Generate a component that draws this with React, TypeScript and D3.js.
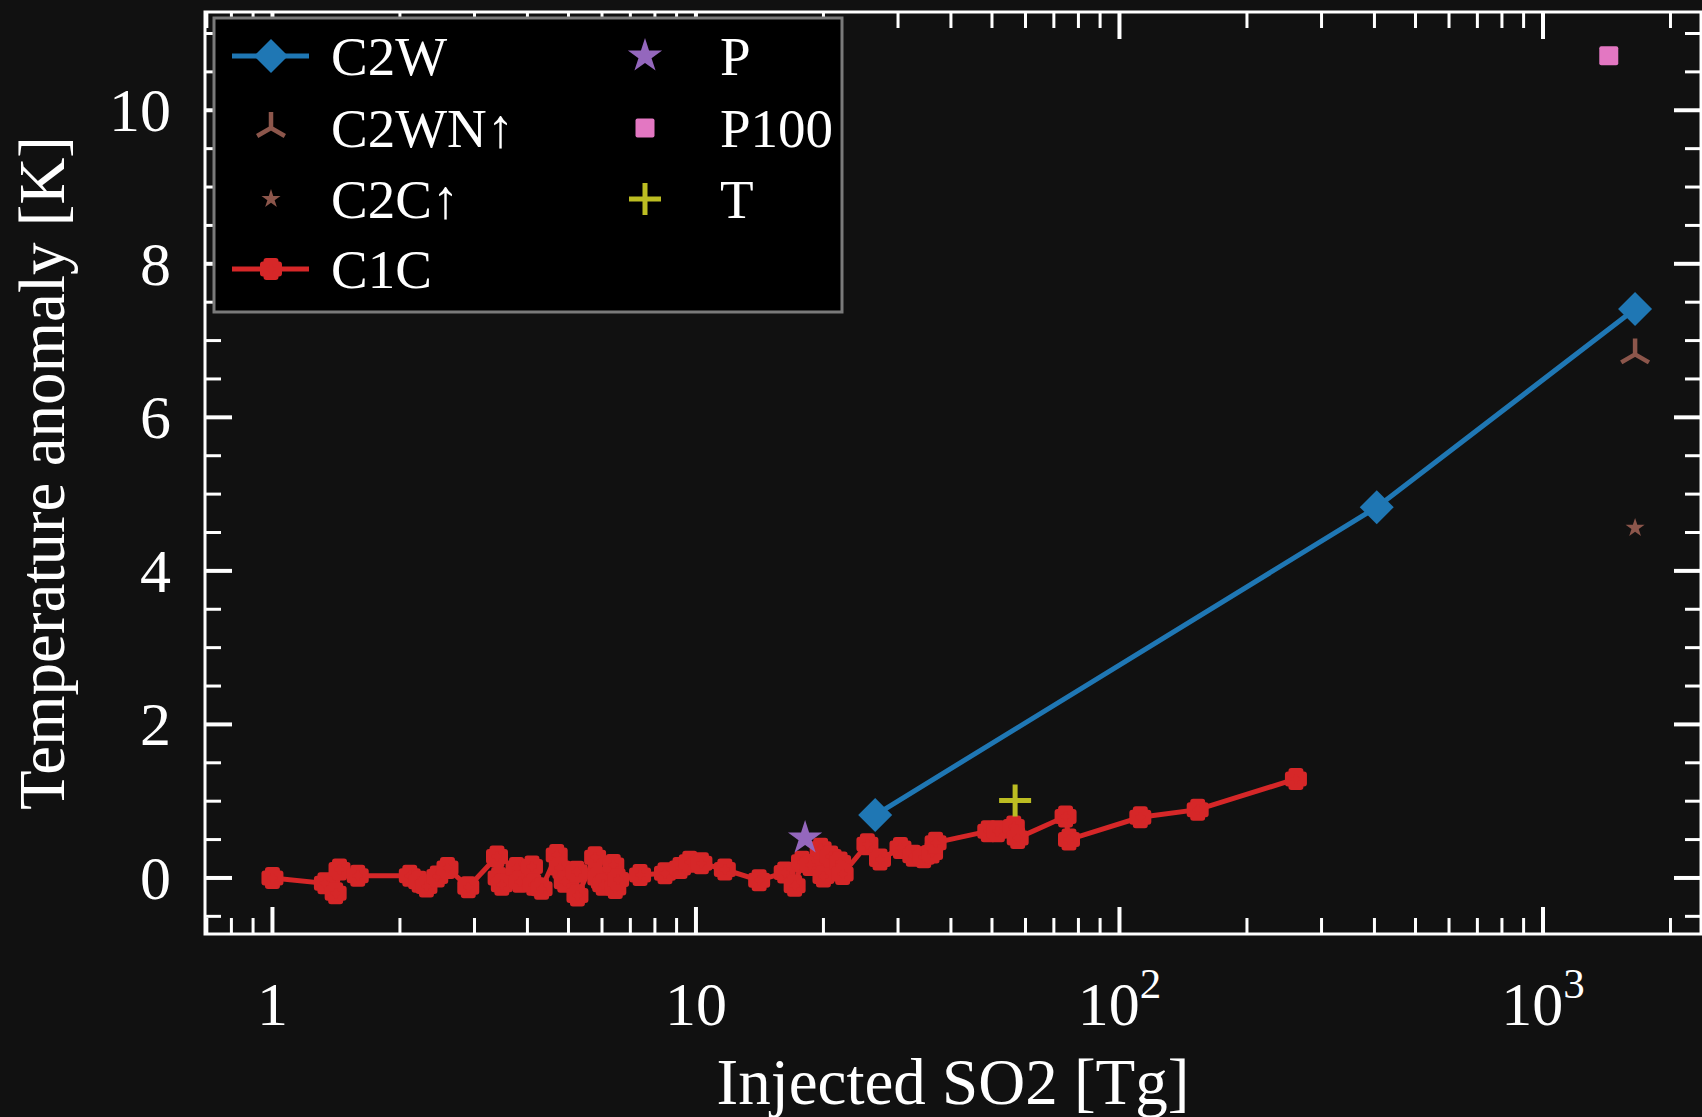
import React, { useEffect } from "react";
import * as d3 from "d3";

// series values
const c2wX = [26.5, 405, 1650];
const c2wY = [0.82, 4.83, 7.41];
const c2wnX = [1650];
const c2wnY = [6.82];
const c2cX = [1650];
const c2cY = [4.56];
const pX = [18.1];
const pY = [0.52];
const p100X = [1430];
const p100Y = [10.71];
const tX = [56.7];
const tY = [1.01];

const c1cX = [
  1.0, 1.33, 1.41, 1.44, 1.59, 2.11, 2.22, 2.31, 2.45, 2.59, 2.9, 3.39, 3.42, 3.48, 3.77, 3.84,
  4.1, 4.14, 4.32, 4.69, 4.77, 4.9, 5.23, 5.25, 5.78, 5.88, 6.04, 6.38, 6.45, 6.55, 7.38, 8.45,
  9.17, 9.67, 10.3, 11.7, 14.1, 16.2, 17.1, 17.8, 18.6, 19.7, 20.0, 20.8, 21.9, 22.2, 25.4, 27.2,
  30.4, 32.6, 34.5, 36.1, 36.8, 49.0, 51.5, 56.3, 57.5, 74.6, 76.0, 112, 153, 261,
];
const c1cY = [
  0.0, -0.07, -0.2, 0.11, 0.03, 0.03, -0.05, -0.11, 0.02, 0.13, -0.12, 0.28, 0.0, -0.09, 0.13, -0.05,
  0.15, -0.09, -0.14, 0.3, 0.13, -0.05, 0.08, -0.23, 0.27, 0.0, -0.09, 0.17, -0.13, -0.02, 0.04, 0.06,
  0.13, 0.21, 0.19, 0.11, -0.03, 0.07, -0.1, 0.21, 0.17, 0.38, 0.02, 0.28, 0.2, 0.05, 0.44, 0.24,
  0.39, 0.29, 0.27, 0.33, 0.46, 0.61, 0.61, 0.67, 0.52, 0.8, 0.5, 0.79, 0.89, 1.29,
];

const xMajor = [1, 10, 100, 1000];
const xTickBase = ["1", "10", "10", "10"];
const xTickExp = ["", "", "2", "3"];
const yMajor = [0, 2, 4, 6, 8, 10];

const legendCol1 = ["C2W", "C2WN\u2191", "C2C\u2191", "C1C"];
const legendCol2 = ["P", "P100", "T"];

const W = 1702;
const H = 1117;
const left = 205, right = 1701, top = 12, bottom = 934;
const BG = "#111111";
const FONT = "'Liberation Serif', 'DejaVu Serif', serif";

const blue = "#1f77b4";
const red = "#d62728";
const brown = "#8c564b";
const purple = "#9467bd";
const pink = "#e377c2";
const olive = "#bcbd22";

const diamond = (r: number) => `M0,${-r}L${r},0L0,${r}L${-r},0Z`;
const plusFilled = (a: number, w: number) =>
  `M${-w},${-a}H${w}V${-w}H${a}V${w}H${w}V${a}H${-w}V${w}H${-a}V${-w}H${-w}Z`;
const tri = (r: number) =>
  `M0,0V${-r}M0,0L${r * 0.866},${r * 0.5}M0,0L${-r * 0.866},${r * 0.5}`;
const star = (r: number) => d3.symbol(d3.symbolStar, (r * r) / 0.8908130915)()!;

function C1CMarker({ x, y }: { x: number; y: number }) {
  return (
    <path
      d={plusFilled(8, 4.5)}
      transform={`translate(${x},${y})`}
      fill={red}
      stroke={red}
      strokeWidth={6}
      strokeLinejoin="round"
    />
  );
}

export default function App() {
  useEffect(() => {
    document.body.style.margin = "0";
    document.body.style.background = BG;
  }, []);

  const x = d3.scaleLog().domain([0.693, 2374]).range([left, 1702]);
  const y = d3.scaleLinear().domain([-0.73, 11.28]).range([bottom, top]);

  const xMinor: number[] = [];
  for (let e = -1; e <= 3; e++) {
    for (let m = 2; m <= 9; m++) {
      const v = m * Math.pow(10, e);
      if (v >= 0.693 && v <= 2374) xMinor.push(v);
    }
  }
  const yMinor = d3.range(-0.5, 11.01, 0.5).filter((v) => Math.abs(v % 2) > 1e-6);

  const line = d3
    .line<[number, number]>()
    .x((d) => x(d[0]))
    .y((d) => y(d[1]));

  const c1c: [number, number][] = c1cX.map((v, i) => [v, c1cY[i]]);
  const c2w: [number, number][] = c2wX.map((v, i) => [v, c2wY[i]]);

  const majLen = 27, minLen = 16;

  // legend rows
  const rowY = [56, 128, 199, 269];
  const col1M = 271, col1T = 331, col2M = 645, col2T = 720;

  return (
    <svg width={W} height={H} style={{ display: "block", background: BG }} fontFamily={FONT}>
      <rect x={0} y={0} width={W} height={H} fill={BG} />

      {/* ticks */}
      <g stroke="#fff">
        {xMajor.map((v) => (
          <g key={"xm" + v} strokeWidth={4}>
            <line x1={x(v)} x2={x(v)} y1={bottom} y2={bottom - majLen} />
            <line x1={x(v)} x2={x(v)} y1={top} y2={top + majLen} />
          </g>
        ))}
        {xMinor.map((v) => (
          <g key={"xn" + v} strokeWidth={3}>
            <line x1={x(v)} x2={x(v)} y1={bottom} y2={bottom - minLen} />
            <line x1={x(v)} x2={x(v)} y1={top} y2={top + minLen} />
          </g>
        ))}
        {yMajor.map((v) => (
          <g key={"ym" + v} strokeWidth={4}>
            <line x1={left} x2={left + majLen} y1={y(v)} y2={y(v)} />
            <line x1={right} x2={right - majLen} y1={y(v)} y2={y(v)} />
          </g>
        ))}
        {yMinor.map((v) => (
          <g key={"yn" + v} strokeWidth={3}>
            <line x1={left} x2={left + minLen} y1={y(v)} y2={y(v)} />
            <line x1={right} x2={right - minLen} y1={y(v)} y2={y(v)} />
          </g>
        ))}
      </g>

      {/* C2W */}
      <path d={line(c2w)!} fill="none" stroke={blue} strokeWidth={5} />
      {c2w.map((d, i) => (
        <path key={"c2w" + i} d={diamond(17)} transform={`translate(${x(d[0])},${y(d[1])})`} fill={blue} />
      ))}
      {/* C2WN up */}
      {c2wnX.map((v, i) => (
        <path key={"c2wn" + i} d={tri(16)} transform={`translate(${x(v)},${y(c2wnY[i])})`} stroke={brown} strokeWidth={4.5} fill="none" />
      ))}
      {/* C2C up */}
      {c2cX.map((v, i) => (
        <path key={"c2c" + i} d={star(10)} transform={`translate(${x(v)},${y(c2cY[i])})`} fill={brown} />
      ))}
      {/* C1C */}
      <path d={line(c1c)!} fill="none" stroke={red} strokeWidth={5} />
      {c1c.map((d, i) => (
        <C1CMarker key={"c1c" + i} x={x(d[0])} y={y(d[1])} />
      ))}
      {/* P */}
      {pX.map((v, i) => (
        <path key={"p" + i} d={star(18)} transform={`translate(${x(v)},${y(pY[i])})`} fill={purple} />
      ))}
      {/* P100 */}
      {p100X.map((v, i) => (
        <rect key={"p100" + i} x={x(v) - 9.5} y={y(p100Y[i]) - 9.5} width={19} height={19} rx={2} fill={pink} />
      ))}
      {/* T */}
      {tX.map((v, i) => (
        <path key={"t" + i} d="M-16,0H16M0,-16V16" transform={`translate(${x(v)},${y(tY[i])})`} stroke={olive} strokeWidth={5} />
      ))}

      {/* spines */}
      <rect x={left} y={top} width={right - left} height={bottom - top} fill="none" stroke="#fff" strokeWidth={3} />

      {/* legend */}
      <rect x={214} y={18} width={628} height={294} fill="#000" stroke="#7a7a7a" strokeWidth={3} />
      <g>
        <line x1={232} x2={309} y1={rowY[0]} y2={rowY[0]} stroke={blue} strokeWidth={5} />
        <path d={diamond(17)} transform={`translate(${col1M},${rowY[0]})`} fill={blue} />
        <path d={tri(16)} transform={`translate(${col1M},${rowY[1]})`} stroke={brown} strokeWidth={4.5} fill="none" />
        <path d={star(10)} transform={`translate(${col1M},${rowY[2]})`} fill={brown} />
        <line x1={232} x2={309} y1={rowY[3]} y2={rowY[3]} stroke={red} strokeWidth={5} />
        <C1CMarker x={col1M} y={rowY[3]} />
        <path d={star(18)} transform={`translate(${col2M},${rowY[0]})`} fill={purple} />
        <rect x={col2M - 9.5} y={rowY[1] - 9.5} width={19} height={19} rx={2} fill={pink} />
        <path d="M-16,0H16M0,-16V16" transform={`translate(${col2M},${rowY[2]})`} stroke={olive} strokeWidth={5} />
      </g>
      <g fill="#fff" fontSize={55}>
        {legendCol1.map((t, i) => (
          <text key={t} x={col1T} y={rowY[i] + 19}>{t}</text>
        ))}
        {legendCol2.map((t, i) => (
          <text key={t} x={col2T} y={rowY[i] + 19}>{t}</text>
        ))}
      </g>

      {/* tick labels */}
      <g fill="#fff" fontSize={62}>
        {xMajor.map((v, i) => (
          <text key={"xl" + v} x={x(v)} y={1025} textAnchor="middle">
            {xTickBase[i]}
            {xTickExp[i] && (
              <tspan fontSize={43} dy={-27}>{xTickExp[i]}</tspan>
            )}
          </text>
        ))}
        {yMajor.map((v) => (
          <text key={"yl" + v} x={171} y={y(v) + 21} textAnchor="end">{v}</text>
        ))}
      </g>

      {/* axis labels */}
      <text x={(left + right) / 2} y={1104} textAnchor="middle" fill="#fff" fontSize={65}>
        Injected SO2 [Tg]
      </text>
      <text
        transform={`translate(64,${(top + bottom) / 2}) rotate(-90)`}
        textAnchor="middle"
        fill="#fff"
        fontSize={65}
      >
        Temperature anomaly [K]
      </text>
    </svg>
  );
}
